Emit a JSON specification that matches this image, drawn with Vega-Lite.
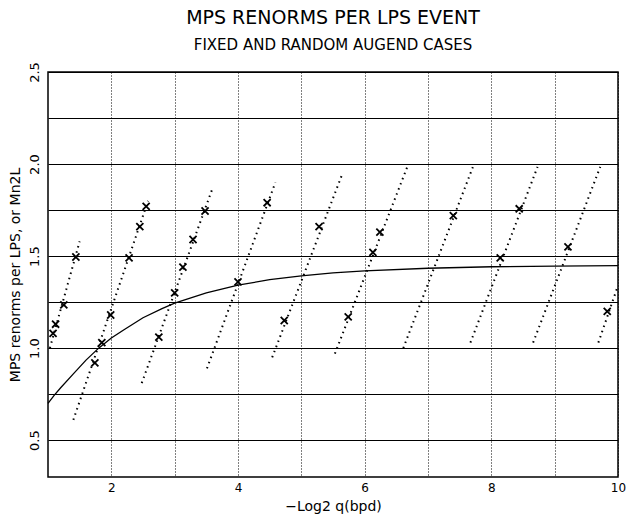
{
  "$schema": "https://vega.github.io/schema/vega-lite/v6.json",
  "autosize": {"type": "none"},
  "width": 570,
  "height": 405,
  "padding": {"left": 48, "top": 72, "right": 10, "bottom": 50},
  "background": "white",
  "config": {
    "view": {"stroke": "black", "strokeWidth": 1.5},
    "font": "DejaVu Sans"
  },
  "title": {
    "text": "MPS RENORMS PER LPS EVENT",
    "subtitle": "FIXED AND RANDOM AUGEND CASES",
    "anchor": "middle",
    "fontSize": 19,
    "fontWeight": "normal",
    "subtitleFontSize": 15,
    "subtitleColor": "black",
    "subtitlePadding": 10,
    "offset": 9,
    "color": "black"
  },
  "datasets": {
    "curve": [
      {"x": 1.0, "y": 0.70}, {"x": 1.1, "y": 0.745}, {"x": 1.2, "y": 0.785}, {"x": 1.4, "y": 0.86},
      {"x": 1.6, "y": 0.935}, {"x": 1.8, "y": 1.0}, {"x": 2.0, "y": 1.055}, {"x": 2.2, "y": 1.1},
      {"x": 2.5, "y": 1.165}, {"x": 2.8, "y": 1.215}, {"x": 3.0, "y": 1.244}, {"x": 3.5, "y": 1.30},
      {"x": 4.0, "y": 1.342}, {"x": 4.5, "y": 1.372}, {"x": 5.0, "y": 1.393}, {"x": 5.5, "y": 1.409},
      {"x": 6.0, "y": 1.42}, {"x": 7.0, "y": 1.434}, {"x": 8.0, "y": 1.442}, {"x": 9.0, "y": 1.446},
      {"x": 10.0, "y": 1.448}
    ],
    "seg": [
      {"s": "A", "x": 1.03, "y": 1.0}, {"s": "A", "x": 1.5, "y": 1.58},
      {"s": "B", "x": 1.4, "y": 0.61}, {"s": "B", "x": 2.58, "y": 1.8},
      {"s": "C", "x": 2.48, "y": 0.81}, {"s": "C", "x": 3.6, "y": 1.87},
      {"s": "D", "x": 3.51, "y": 0.89}, {"s": "D", "x": 4.59, "y": 1.9},
      {"s": "E", "x": 4.54, "y": 0.95}, {"s": "E", "x": 5.64, "y": 1.94},
      {"s": "F", "x": 5.53, "y": 0.97}, {"s": "F", "x": 6.69, "y": 2.0},
      {"s": "G", "x": 6.61, "y": 1.0}, {"s": "G", "x": 7.71, "y": 1.985},
      {"s": "H", "x": 7.67, "y": 1.03}, {"s": "H", "x": 8.73, "y": 1.985},
      {"s": "I", "x": 8.66, "y": 1.03}, {"s": "I", "x": 9.72, "y": 1.985},
      {"s": "J", "x": 9.69, "y": 1.03}, {"s": "J", "x": 10.0, "y": 1.34}
    ],
    "pts": [
      {"x": 1.08, "y": 1.08}, {"x": 1.12, "y": 1.13}, {"x": 1.25, "y": 1.235}, {"x": 1.44, "y": 1.495},
      {"x": 1.74, "y": 0.92}, {"x": 1.85, "y": 1.03}, {"x": 1.99, "y": 1.18}, {"x": 2.28, "y": 1.49},
      {"x": 2.45, "y": 1.66}, {"x": 2.55, "y": 1.77},
      {"x": 2.75, "y": 1.06}, {"x": 3.0, "y": 1.3}, {"x": 3.13, "y": 1.44}, {"x": 3.29, "y": 1.59},
      {"x": 3.48, "y": 1.745},
      {"x": 4.0, "y": 1.36}, {"x": 4.46, "y": 1.79},
      {"x": 4.73, "y": 1.15}, {"x": 5.28, "y": 1.66},
      {"x": 5.74, "y": 1.17}, {"x": 6.13, "y": 1.52}, {"x": 6.24, "y": 1.63},
      {"x": 7.4, "y": 1.72},
      {"x": 8.14, "y": 1.49}, {"x": 8.44, "y": 1.757},
      {"x": 9.21, "y": 1.55},
      {"x": 9.83, "y": 1.2}
    ]
  },
  "layer": [
    {
      "data": {"name": "curve"},
      "mark": {"type": "line", "color": "black", "strokeWidth": 1.3},
      "encoding": {
        "x": {
          "field": "x", "type": "quantitative",
          "scale": {"domain": [1, 10], "nice": false, "zero": false},
          "axis": {
            "values": [2, 3, 4, 5, 6, 7, 8, 9, 10],
            "format": "d",
            "labelExpr": "datum.value % 2 == 0 ? datum.label : ''",
            "grid": true, "gridDash": [1, 2], "gridColor": "black", "gridWidth": 1, "gridOpacity": 1,
            "ticks": false, "domain": false, "labelFlush": false,
            "labelFontSize": 12, "labelColor": "black", "labelPadding": 5,
            "title": "−Log2 q(bpd)", "titleFontSize": 14, "titleFontWeight": "normal",
            "titleColor": "black", "titlePadding": 6
          }
        },
        "y": {
          "field": "y", "type": "quantitative",
          "scale": {"domain": [0.3, 2.5], "nice": false, "zero": false},
          "axis": {
            "values": [0.5, 0.75, 1.0, 1.25, 1.5, 1.75, 2.0, 2.25, 2.5],
            "labelExpr": "abs(datum.value * 2 - round(datum.value * 2)) < 0.01 ? format(datum.value, '.1f') : ''",
            "grid": true, "gridColor": "black", "gridWidth": 1.2, "gridOpacity": 1,
            "ticks": false, "domain": false, "labelAngle": -90,
            "labelFontSize": 13, "labelColor": "black", "labelPadding": 7,
            "title": "MPS renorms per LPS, or Mn2L", "titleFontSize": 14, "titleFontWeight": "normal",
            "titleColor": "black", "titlePadding": 6
          }
        }
      }
    },
    {
      "data": {"name": "seg"},
      "mark": {"type": "line", "color": "black", "strokeDash": [1.5, 4], "strokeWidth": 2, "clip": true},
      "encoding": {
        "x": {"field": "x", "type": "quantitative"},
        "y": {"field": "y", "type": "quantitative"},
        "detail": {"field": "s"}
      }
    },
    {
      "data": {"name": "pts"},
      "mark": {"type": "point", "shape": "M-1,-1L1,1M1,-1L-1,1", "stroke": "black", "strokeWidth": 1.8, "size": 50, "filled": false, "opacity": 1},
      "encoding": {
        "x": {"field": "x", "type": "quantitative"},
        "y": {"field": "y", "type": "quantitative"}
      }
    }
  ]
}
